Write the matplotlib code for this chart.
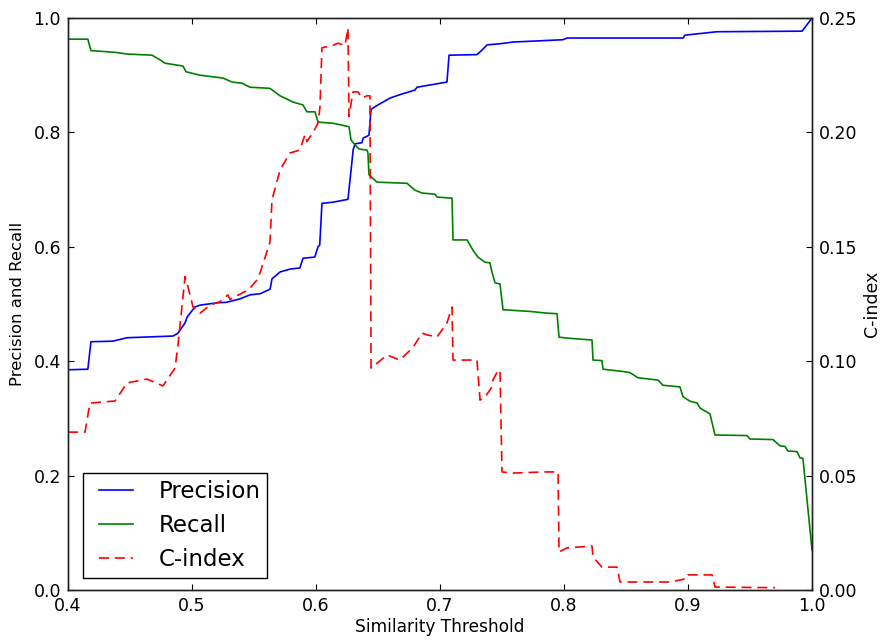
import matplotlib
matplotlib.use("Agg")
import matplotlib.pyplot as plt
from matplotlib.legend_handler import HandlerLine2D

# ---- data ----
prec_x = [0.400, 0.416, 0.4185, 0.436, 0.4476, 0.4847, 0.4887, 0.4944, 0.496, 0.5024, 0.5065, 0.520,
          0.528, 0.5387, 0.5468, 0.555, 0.563, 0.5645, 0.571, 0.579, 0.587, 0.5895, 0.599, 0.6016,
          0.603, 0.6048, 0.6137, 0.6258, 0.6274, 0.630, 0.6315, 0.637, 0.638, 0.6427, 0.6444, 0.6476,
          0.6516, 0.6597, 0.6677, 0.6798, 0.6815, 0.7056, 0.7073, 0.7298, 0.7339, 0.738, 0.7484,
          0.759, 0.799, 0.8024, 0.896, 0.8976, 0.9234, 0.992, 1.0]
prec_y = [0.385, 0.386, 0.434, 0.435, 0.441, 0.444, 0.449, 0.467, 0.477, 0.495, 0.498, 0.502,
          0.503, 0.509, 0.516, 0.518, 0.526, 0.544, 0.556, 0.561, 0.563, 0.580, 0.582, 0.600,
          0.603, 0.676, 0.678, 0.683, 0.716, 0.770, 0.780, 0.782, 0.790, 0.795, 0.840, 0.845,
          0.850, 0.860, 0.866, 0.874, 0.879, 0.888, 0.935, 0.936, 0.944, 0.953, 0.955,
          0.958, 0.962, 0.965, 0.965, 0.970, 0.976, 0.977, 1.000]

rec_x = [0.400, 0.416, 0.4185, 0.4379, 0.4476, 0.4677, 0.4742, 0.4782, 0.4927, 0.4952, 0.5065, 0.525,
         0.5323, 0.5403, 0.5468, 0.5629, 0.571, 0.5815, 0.5895, 0.5927, 0.5992, 0.6016, 0.6137,
         0.6266, 0.6282, 0.6315, 0.6347, 0.6411, 0.6419, 0.6427, 0.6492, 0.6734, 0.6798, 0.6855,
         0.696, 0.6976, 0.7097, 0.7105, 0.7218, 0.7266, 0.7306, 0.7363, 0.7403, 0.7419, 0.7444,
         0.7484, 0.7508, 0.7726, 0.7863, 0.7944, 0.796, 0.8048, 0.8226, 0.8234, 0.8306, 0.8315,
         0.8476, 0.8532, 0.8597, 0.8758, 0.8798, 0.8935, 0.896, 0.9016, 0.9073, 0.9097, 0.9137,
         0.9177, 0.9218, 0.9476, 0.950, 0.9685, 0.9742, 0.9782, 0.9806, 0.9879, 0.9903, 0.9927, 1.0]
rec_y = [0.963, 0.963, 0.943, 0.940, 0.937, 0.935, 0.927, 0.921, 0.916, 0.906, 0.900, 0.895,
         0.888, 0.886, 0.879, 0.877, 0.864, 0.853, 0.848, 0.836, 0.836, 0.818, 0.816,
         0.810, 0.787, 0.778, 0.771, 0.769, 0.764, 0.726, 0.713, 0.711, 0.699, 0.694,
         0.692, 0.687, 0.685, 0.612, 0.612, 0.594, 0.582, 0.573, 0.572, 0.556, 0.537,
         0.535, 0.490, 0.487, 0.484, 0.483, 0.442, 0.440, 0.437, 0.402, 0.401, 0.386,
         0.382, 0.380, 0.371, 0.367, 0.358, 0.355, 0.338, 0.330, 0.327, 0.318, 0.313,
         0.308, 0.271, 0.270, 0.264, 0.263, 0.252, 0.251, 0.243, 0.242, 0.231, 0.230, 0.070]

cidx_x = [0.400, 0.4137, 0.4177, 0.4379, 0.4476, 0.4637, 0.4766, 0.4863, 0.4887, 0.4944, 0.4968,
          0.5008, 0.5065, 0.5145, 0.5226, 0.529, 0.5306, 0.5411, 0.5452, 0.5524, 0.5548, 0.5629,
          0.5645, 0.571, 0.579, 0.5871, 0.5911, 0.5927, 0.5976, 0.6016, 0.6032, 0.6048, 0.6137,
          0.6177, 0.6234, 0.6258, 0.6266, 0.6298, 0.6339, 0.6371, 0.6411, 0.6435, 0.6444, 0.6573,
          0.6677, 0.6782, 0.6855, 0.6895, 0.6976, 0.7056, 0.7097, 0.7105, 0.7298, 0.7323, 0.7363,
          0.7419, 0.7427, 0.7468, 0.7484, 0.750, 0.7589, 0.783, 0.7952, 0.796, 0.8024, 0.8226,
          0.8234, 0.8306, 0.8427, 0.8452, 0.8855, 0.8992, 0.900, 0.9194, 0.9218, 0.9702]
cidx_y = [0.069, 0.069, 0.0817, 0.0826, 0.0905, 0.0922, 0.0892, 0.097, 0.107, 0.137, 0.1324,
          0.1237, 0.121, 0.1245, 0.126, 0.129, 0.127, 0.130, 0.131, 0.1355, 0.1385, 0.152,
          0.1705, 0.1836, 0.191, 0.1923, 0.199, 0.196, 0.200, 0.204, 0.211, 0.237, 0.238,
          0.239, 0.238, 0.2456, 0.207, 0.2177, 0.2177, 0.215, 0.216, 0.216, 0.097, 0.1027,
          0.1005, 0.106, 0.1123, 0.1115, 0.1106, 0.1167, 0.1237, 0.1005, 0.1005, 0.083, 0.0844,
          0.0887, 0.0918, 0.096, 0.096, 0.0516, 0.0511, 0.0516, 0.0516, 0.0166, 0.0184, 0.0192,
          0.0144, 0.010, 0.010, 0.0035, 0.0035, 0.005, 0.0066, 0.0066, 0.0013, 0.001]

x_ticks = [0.4, 0.5, 0.6, 0.7, 0.8, 0.9, 1.0]
left_ticks = [0.0, 0.2, 0.4, 0.6, 0.8, 1.0]
right_ticks = [0.00, 0.05, 0.10, 0.15, 0.20, 0.25]

plt.rcParams['font.family'] = ['DejaVu Sans']
fig = plt.figure(figsize=(8.83, 6.4), dpi=100)
ax = fig.add_axes([68/883, 1-590/640, (812-68)/883, (590-18)/640])
ax2 = ax.twinx()

lw = 1.2
l1, = ax.plot(prec_x, prec_y, color='#0000ff', lw=lw, label='Precision')
l2, = ax.plot(rec_x, rec_y, color='#008000', lw=lw, label='Recall')
l3, = ax2.plot(cidx_x, cidx_y, color='#ff0000', lw=lw, ls='--', dashes=(6, 3.5), label='C-index')

ax.set_xlim(0.4, 1.0)
ax.set_ylim(0.0, 1.0)
ax2.set_ylim(0.0, 0.25)
ax.set_xticks(x_ticks)
ax.set_xticklabels(['%.1f' % v for v in x_ticks])
ax.set_yticks(left_ticks)
ax.set_yticklabels(['%.1f' % v for v in left_ticks])
ax2.set_yticks(right_ticks)
ax2.set_yticklabels(['%.2f' % v for v in right_ticks])

ax.tick_params(axis='both', direction='in', length=4, width=0.8, labelsize=12.5, pad=5, top=True)
ax.tick_params(axis='y', right=False)
ax2.tick_params(axis='y', direction='in', length=4, width=0.8, labelsize=12.5, pad=5)
for a in (ax, ax2):
    for s in a.spines.values():
        s.set_linewidth(1.0)
        s.set_color('#222222')

ax.set_xlabel('Similarity Threshold', fontsize=12.25, labelpad=2)
ax.set_ylabel('Precision and Recall', fontsize=11.85, labelpad=6)
ax2.set_ylabel('C-index', fontsize=12.5, labelpad=4)

hmap = {l: HandlerLine2D(xpad=0.42) for l in (l1, l2, l3)}
leg = ax2.legend(handles=[l1, l2, l3], handler_map=hmap, loc='lower left',
                 bbox_to_anchor=(0.0198, 0.021),
                 fontsize=16.5, frameon=True, fancybox=False, framealpha=1.0,
                 borderaxespad=0, handlelength=1.91, handletextpad=1.09, borderpad=0.3,
                 labelspacing=0.49)
leg.get_frame().set_edgecolor('black')
leg.get_frame().set_linewidth(1.0)
for h in leg.get_lines():
    h.set_linewidth(1.2)

fig.savefig('out.png', dpi=100)
